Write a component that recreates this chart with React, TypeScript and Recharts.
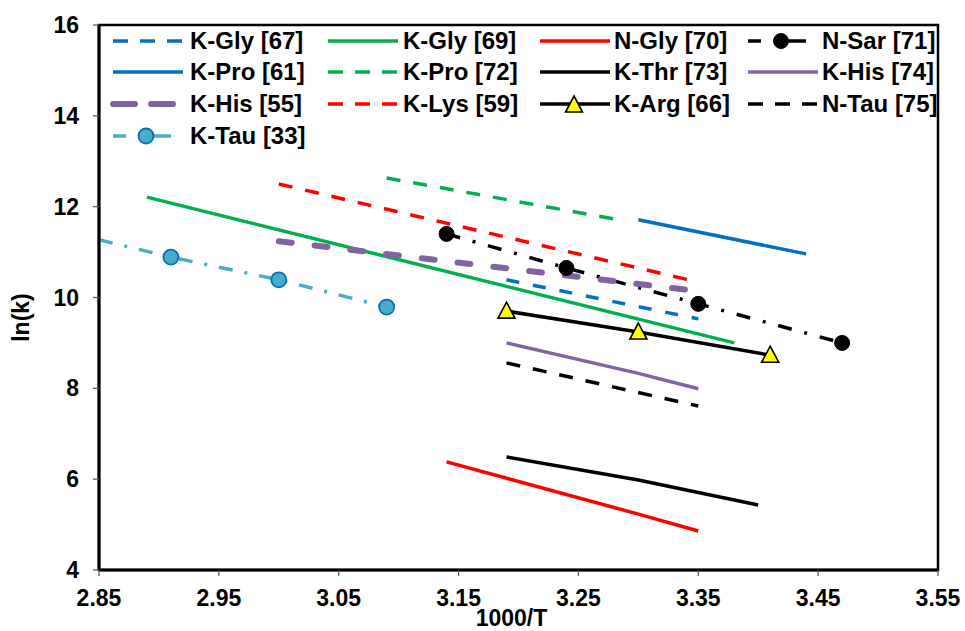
import React from 'react';
import { LineChart, Line, XAxis, YAxis, Legend, ReferenceArea, Label } from 'recharts';

const FONT = '"Liberation Sans", Arial, Helvetica, sans-serif';

// ---- data ----
const kGly67X = [3.19, 3.35];
const kGly67Y = [10.39, 9.53];
const kGly69X = [2.89, 3.38];
const kGly69Y = [12.21, 9.0];
const nGly70X = [3.14, 3.3, 3.35];
const nGly70Y = [6.38, 5.23, 4.86];
const nSar71X = [3.14, 3.24, 3.35, 3.47];
const nSar71Y = [11.4, 10.65, 9.86, 9.0];
const kPro61X = [3.3, 3.44];
const kPro61Y = [11.71, 10.96];
const kPro72X = [3.09, 3.28];
const kPro72Y = [12.63, 11.73];
const kThr73X = [3.19, 3.3, 3.4];
const kThr73Y = [6.49, 5.98, 5.43];
const kHis74X = [3.19, 3.3, 3.35];
const kHis74Y = [9.0, 8.33, 7.99];
const kHis55X = [3.0, 3.35];
const kHis55Y = [11.24, 10.14];
const kLys59X = [3.0, 3.35];
const kLys59Y = [12.5, 10.34];
const kArg66X = [3.19, 3.3, 3.41];
const kArg66Y = [9.7, 9.24, 8.73];
const nTau75X = [3.19, 3.35];
const nTau75Y = [8.56, 7.61];
const kTau33X = [2.85, 2.91, 3.0, 3.09];
const kTau33Y = [11.27, 10.89, 10.39, 9.79];
const kTau33Marker = [false, true, true, true];

const xTicks = [2.85, 2.95, 3.05, 3.15, 3.25, 3.35, 3.45, 3.55];
const yTicks = [4, 6, 8, 10, 12, 14, 16];

const BLUE = '#0070C0';
const GREEN = '#00B050';
const RED = '#FF0000';
const PURPLE = '#8064A2';
const LBLUE = '#4BACC6';
const BLACK = '#000000';

type Pt = { x: number; y: number; m: boolean };
const pts = (xs: number[], ys: number[], ms?: boolean[]): Pt[] =>
  xs.map((x, i) => ({ x, y: ys[i], m: ms ? ms[i] : true }));

type Series = {
  name: string;
  data: Pt[];
  color: string;
  width: number;
  dash?: string;
  legendDash?: string;
  cap?: 'round' | 'butt';
  marker?: 'blackCircle' | 'blueCircle' | 'tri';
};

const series: Series[] = [
  { name: 'K-Gly [67]', data: pts(kGly67X, kGly67Y), color: BLUE, width: 3.5, dash: '13 14', legendDash: '15 12' },
  { name: 'K-Gly [69]', data: pts(kGly69X, kGly69Y), color: GREEN, width: 3.5 },
  { name: 'N-Gly [70]', data: pts(nGly70X, nGly70Y), color: RED, width: 3.5 },
  { name: 'N-Sar [71]', data: pts(nSar71X, nSar71Y), color: BLACK, width: 3.5, dash: '14 13 3 13', marker: 'blackCircle' },
  { name: 'K-Pro [61]', data: pts(kPro61X, kPro61Y), color: BLUE, width: 3.5 },
  { name: 'K-Pro [72]', data: pts(kPro72X, kPro72Y), color: GREEN, width: 3.5, dash: '14 13', legendDash: '15 12' },
  { name: 'K-Thr [73]', data: pts(kThr73X, kThr73Y), color: BLACK, width: 3.5 },
  { name: 'K-His [74]', data: pts(kHis74X, kHis74Y), color: PURPLE, width: 3.5 },
  { name: 'K-His [55]', data: pts(kHis55X, kHis55Y), color: PURPLE, width: 6, dash: '13 23', legendDash: '22 16', cap: 'round' },
  { name: 'K-Lys [59]', data: pts(kLys59X, kLys59Y), color: RED, width: 3.5, dash: '14 13', legendDash: '15 12' },
  { name: 'K-Arg [66]', data: pts(kArg66X, kArg66Y), color: BLACK, width: 3.5, marker: 'tri' },
  { name: 'N-Tau [75]', data: pts(nTau75X, nTau75Y), color: BLACK, width: 3.5, dash: '14 13', legendDash: '15 12' },
  { name: 'K-Tau [33]', data: pts(kTau33X, kTau33Y, kTau33Marker), color: LBLUE, width: 3.5, dash: '14 12 3 12', marker: 'blueCircle' },
];

const markerShape = (marker: Series['marker'], cx: number, cy: number, key?: string) => {
  if (marker === 'blackCircle') return <circle key={key} cx={cx} cy={cy} r={7.5} fill="#000" stroke="#000" strokeWidth={1} />;
  if (marker === 'blueCircle') return <circle key={key} cx={cx} cy={cy} r={7.5} fill={LBLUE} stroke={BLUE} strokeWidth={1.8} />;
  if (marker === 'tri')
    return (
      <path
        key={key}
        d={`M${cx},${cy - 9} L${cx + 8.5},${cy + 7} L${cx - 8.5},${cy + 7} Z`}
        fill="#FFFF00"
        stroke="#000"
        strokeWidth={1.6}
        strokeLinejoin="miter"
      />
    );
  return null;
};

const makeDot = (s: Series) => {
  if (!s.marker) return false;
  return (props: any) => {
    const { cx, cy, index, payload } = props;
    const key = `${s.name}-dot-${index}`;
    if (!payload || payload.m === false || cx == null || cy == null) return <g key={key} />;
    return markerShape(s.marker, cx, cy, key) as any;
  };
};

const colX = [113, 328, 540, 748];
const textX = [190, 403, 614, 822];
const rowY = [41, 72, 104, 136];
const SAMPLE_W = 70;

const LegendSample = ({ s }: { s: Series }) => {
  const c = 10;
  let body: React.ReactNode;
  if (s.marker === 'blackCircle' || s.marker === 'blueCircle') {
    body = (
      <>
        <line x1={0} x2={13} y1={c} y2={c} stroke={s.color} strokeWidth={s.width} />
        <line x1={33} x2={58} y1={c} y2={c} stroke={s.color} strokeWidth={s.width} />
        {markerShape(s.marker, 33, c)}
      </>
    );
  } else {
    body = (
      <>
        <line
          x1={0}
          x2={SAMPLE_W}
          y1={c}
          y2={c}
          stroke={s.color}
          strokeWidth={s.width}
          strokeDasharray={s.legendDash ?? s.dash}
          strokeLinecap={s.cap ?? 'butt'}
        />
        {s.marker ? markerShape(s.marker, 34, c + 1) : null}
      </>
    );
  }
  return (
    <svg width={SAMPLE_W} height={20} style={{ position: 'absolute', left: 0, top: -10, overflow: 'visible' }}>
      {body}
    </svg>
  );
};

const renderLegend = () => (
  <div style={{ position: 'relative', width: 965, height: 0 }}>
    {series.map((s, i) => {
      const col = i % 4;
      const row = Math.floor(i / 4);
      return (
        <div key={s.name} style={{ position: 'absolute', left: colX[col], top: rowY[row], height: 0 }}>
          <LegendSample s={s} />
          <div
            style={{
              position: 'absolute',
              left: textX[col] - colX[col],
              top: -14,
              lineHeight: '28px',
              fontSize: 24,
              fontWeight: 'bold',
              fontFamily: FONT,
              color: '#000',
              whiteSpace: 'nowrap',
            }}
          >
            {s.name}
          </div>
        </div>
      );
    })}
  </div>
);

const tickStyle = { fill: '#000', fontSize: 23, fontWeight: 'bold', fontFamily: FONT } as any;

export default function App() {
  return (
    <div style={{ position: 'absolute', left: 0, top: 0, width: 965, height: 631, background: '#fff' }}>
      <LineChart width={965} height={631} margin={{ top: 25, right: 27, bottom: 0, left: 0 }}>
        <XAxis
          type="number"
          dataKey="x"
          domain={[2.85, 3.55]}
          ticks={xTicks}
          interval={0}
          allowDataOverflow
          tickFormatter={(v: number) => v.toFixed(2)}
          height={61}
          tickSize={6}
          tickMargin={14}
          axisLine={{ stroke: '#000', strokeWidth: 3 }}
          tickLine={{ stroke: '#555', strokeWidth: 1.2 }}
          tick={tickStyle}
        >
          <Label
            content={(p: any) => {
              const vb = p.viewBox || { x: 99, y: 570, width: 839 };
              return (
                <text
                  x={vb.x + vb.width / 2 - 7}
                  y={vb.y + 56}
                  textAnchor="middle"
                  fontSize={23}
                  fontWeight="bold"
                  fontFamily={FONT}
                  fill="#000"
                >
                  1000/T
                </text>
              );
            }}
          />
        </XAxis>
        <YAxis
          type="number"
          domain={[4, 16]}
          ticks={yTicks}
          interval={0}
          allowDataOverflow
          width={99}
          tickSize={6}
          tickMargin={14}
          axisLine={{ stroke: '#000', strokeWidth: 3 }}
          tickLine={{ stroke: '#555', strokeWidth: 1.2 }}
          tick={tickStyle}
        >
          <Label
            content={(p: any) => {
              const vb = p.viewBox || { x: 0, y: 25, width: 99, height: 545 };
              const cx = 21;
              const cy = vb.y + vb.height / 2 + 20;
              return (
                <text
                  x={cx}
                  y={cy}
                  transform={`rotate(-90 ${cx} ${cy})`}
                  textAnchor="middle"
                  dominantBaseline="central"
                  fontSize={23}
                  fontWeight="bold"
                  fontFamily={FONT}
                  fill="#000"
                >
                  ln(k)
                </text>
              );
            }}
          />
        </YAxis>
        <ReferenceArea
          x1={2.85}
          x2={3.55}
          y1={4}
          y2={16}
          fill="none"
          fillOpacity={0}
          stroke="#000"
          strokeWidth={2.5}
          ifOverflow="visible"
        />
        {series.map((s) => (
          <Line
            key={s.name}
            name={s.name}
            data={s.data}
            dataKey="y"
            type="linear"
            stroke={s.color}
            strokeWidth={s.width}
            strokeDasharray={s.dash}
            strokeLinecap={s.cap ?? 'butt'}
            dot={makeDot(s) as any}
            activeDot={false}
            isAnimationActive={false}
            legendType="none"
          />
        ))}
        <Legend
          layout="horizontal"
          verticalAlign="middle"
          align="center"
          content={renderLegend}
          wrapperStyle={{ position: 'absolute', left: 0, top: 0, width: 965, height: 0, margin: 0, padding: 0 }}
        />
      </LineChart>
    </div>
  );
}
